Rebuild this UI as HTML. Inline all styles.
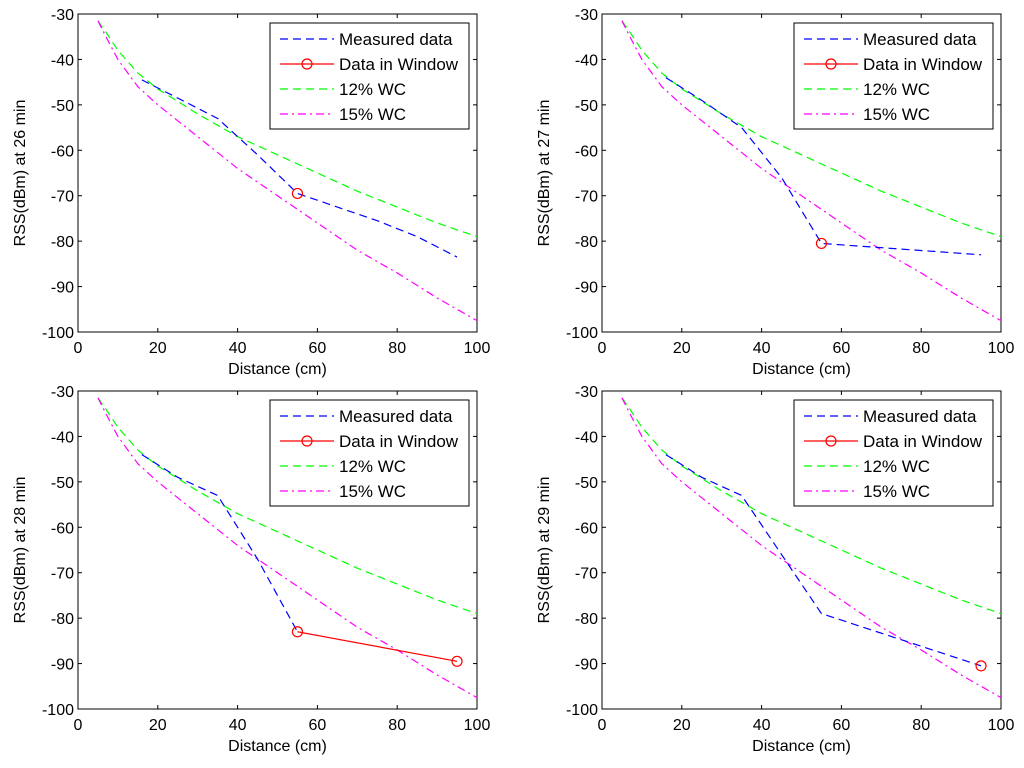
<!DOCTYPE html>
<html><head><meta charset="utf-8"><style>
body{margin:0;background:#fff;}
svg text{font-family:"Liberation Sans",sans-serif;font-size:16px;fill:#000;}
svg text.leg{font-size:17px;}
</style></head><body>
<svg id="fig" width="1024" height="763" xmlns="http://www.w3.org/2000/svg"></svg>
<script>
const xTicks=[0,20,40,60,80,100];
const yTicks=[-30,-40,-50,-60,-70,-80,-90,-100];
const wc12X=[5,7,10,15,20,30,40,50,60,70,80,90,100];
const wc12Y=[-31.5,-34,-38,-43,-46.5,-52,-57,-61,-65,-69,-72.5,-76,-79];
const wc15X=[5,7,10,15,20,30,40,50,60,70,80,90,100];
const wc15Y=[-31.5,-35,-40,-46,-50,-57,-64,-70,-76,-82,-87,-92.5,-97.5];
const minutes=[26,27,28,29];
const meas26X=[16,25,35,45,55,65,75,85,95];
const meas26Y=[-44.5,-48.5,-53,-61,-69.5,-72.5,-75.5,-79,-83.5];
const meas27X=[16,25,35,45,55,95];
const meas27Y=[-44,-49,-55,-66,-80.5,-83];
const meas28X=[16,25,35,45,55];
const meas28Y=[-44,-49,-53,-67,-83];
const meas29X=[16,25,35,45,55,95];
const meas29Y=[-44,-49,-53,-66,-79,-90.5];
const win26X=[55], win26Y=[-69.5];
const win27X=[55], win27Y=[-80.5];
const win28X=[55,95], win28Y=[-83,-89.5];
const win29X=[95], win29Y=[-90.5];
const measX=[meas26X,meas27X,meas28X,meas29X], measY=[meas26Y,meas27Y,meas28Y,meas29Y];
const winX=[win26X,win27X,win28X,win29X], winY=[win26Y,win27Y,win28Y,win29Y];

const NS="http://www.w3.org/2000/svg";
const svg=document.getElementById('fig');
function mk(t,a,p){const e=document.createElementNS(NS,t);for(const k in a)e.setAttribute(k,a[k]);(p||svg).appendChild(e);return e;}
const origins=[[78,14],[602,14],[78,391],[602,391]];
const W=399,H=318;
origins.forEach((o,i)=>{
  const g=mk('g',{});
  
  
  const sx=v=>o[0]+v/100*W, sy=v=>o[1]+(-30-v)/70*H;
  const ax=mk('rect',{x:o[0],y:o[1],width:W,height:H,fill:'#fff',stroke:'#000','stroke-width':1},g);
  
  
  xTicks.forEach(t=>{const x=sx(t);
    mk('line',{x1:x,x2:x,y1:o[1]+H,y2:o[1]+H-4,stroke:'#000'},g);
    mk('line',{x1:x,x2:x,y1:o[1],y2:o[1]+4,stroke:'#000'},g);
    const tx=mk('text',{x:x,y:o[1]+H+21,'text-anchor':'middle'},g);tx.textContent=t;
    
    });
  yTicks.forEach(t=>{const y=sy(t);
    mk('line',{x1:o[0],x2:o[0]+4,y1:y,y2:y,stroke:'#000'},g);
    mk('line',{x1:o[0]+W,x2:o[0]+W-4,y1:y,y2:y,stroke:'#000'},g);
    const tx=mk('text',{x:o[0]-4,y:y+6,'text-anchor':'end'},g);tx.textContent=t;
    
    });
  const xl=mk('text',{x:o[0]+W/2,y:o[1]+H+42,'text-anchor':'middle'},g);xl.textContent='Distance (cm)';
  
  
  const yl=mk('text',{x:0,y:0,'text-anchor':'middle',transform:`translate(${o[0]-53},${o[1]+H/2}) rotate(-90)`},g);yl.textContent='RSS(dBm) at '+minutes[i]+' min';
  
  
  const pts=(X,Y)=>X.map((v,k)=>sx(v)+','+sy(Y[k])).join(' ');
  const l12=mk('polyline',{points:pts(wc12X,wc12Y),fill:'none',stroke:'#00ff00','stroke-width':1.2,'stroke-dasharray':'8,5'},g);
  
  
  const l15=mk('polyline',{points:pts(wc15X,wc15Y),fill:'none',stroke:'#ff00ff','stroke-width':1.2,'stroke-dasharray':'8,4,2,4'},g);
  
  
  const lm=mk('polyline',{points:pts(measX[i],measY[i]),fill:'none',stroke:'#0000ff','stroke-width':1.2,'stroke-dasharray':'8,5'},g);
  
  
  if(winX[i].length>1){const lw=mk('polyline',{points:pts(winX[i],winY[i]),fill:'none',stroke:'#ff0000','stroke-width':1.2},g);
    
    }
  winX[i].forEach((v,k)=>{const c=mk('circle',{cx:sx(v),cy:sy(winY[i][k]),r:5,fill:'none',stroke:'#ff0000','stroke-width':1.2},g);
    
    });
  const lx=o[0]+192, ly=o[1]+9;
  const lg=mk('g',{},g);
  
  
  mk('rect',{x:lx,y:ly,width:199,height:106,fill:'#fff',stroke:'#000','stroke-width':1},lg);
  const ent=[['Measured data','#0000ff','8,5',false],['Data in Window','#ff0000','',true],['12% WC','#00ff00','8,5',false],['15% WC','#ff00ff','8,4,2,4',false]];
  ent.forEach((e,k)=>{const y=ly+16+k*25;
    const a={x1:lx+10,x2:lx+64,y1:y,y2:y,stroke:e[1],'stroke-width':1.2};if(e[2])a['stroke-dasharray']=e[2];
    mk('line',a,lg);
    if(e[3])mk('circle',{cx:lx+37,cy:y,r:5,fill:'none',stroke:e[1],'stroke-width':1.2},lg);
    const t=mk('text',{x:lx+69,y:y+6,'class':'leg'},lg);t.textContent=e[0];
    
    });
});
</script>
</body></html>
